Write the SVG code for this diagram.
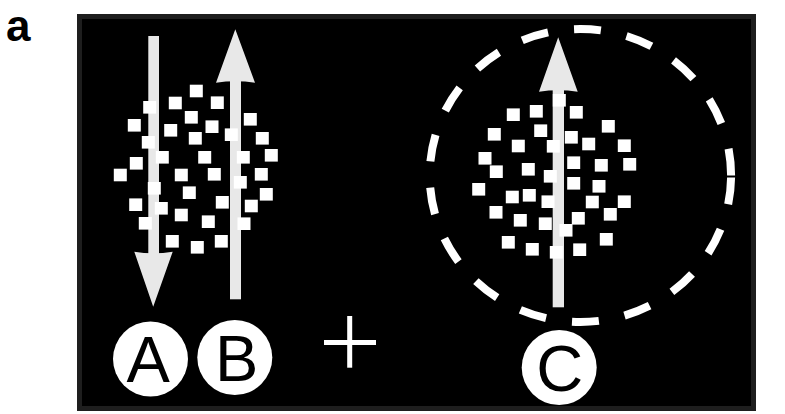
<svg xmlns="http://www.w3.org/2000/svg" width="785" height="414" viewBox="0 0 785 414">
<style>
.d{fill:#ffffff}
.arr{fill:#e8e8e8}
.lab{fill:#ffffff}
.lt{font-family:"Liberation Sans",Arial,sans-serif;font-size:65px;fill:#000000;text-anchor:middle}
</style>
<rect x="0" y="0" width="785" height="414" fill="#ffffff"/>
<text x="6" y="40.5" font-family="Liberation Sans, Arial, sans-serif" font-weight="bold" font-size="44" fill="#000000">a</text>
<rect id="panel" x="79.5" y="16.5" width="674" height="392" fill="#000000" stroke="#1e1e1e" stroke-width="5"/>
<g id="connectors">
<g id="arrowA" class="arr">
<rect x="148.3" y="36" width="10.7" height="218"/>
<path d="M134.3,251.7 Q153.5,255 172.7,251.7 L153.2,306.7 Z"/>
</g>
<g id="arrowB" class="arr">
<rect x="230" y="80" width="11" height="219.3"/>
<path d="M216,82.7 Q235.5,80 255,82.7 L235.3,29.3 Z"/>
</g>
<g id="arrowC" class="arr">
<rect x="552.7" y="88" width="11.3" height="219.3"/>
<path d="M539,91.7 Q558.3,89 577.7,91.7 L558.2,37.3 Z"/>
</g>
</g>
<g id="clusterAB">
<rect class="d" x="189.8" y="84.7" width="13" height="12.6"/>
<rect class="d" x="143.2" y="101" width="13" height="12.6"/>
<rect class="d" x="168.8" y="96.7" width="13" height="12.6"/>
<rect class="d" x="210.8" y="96.4" width="13" height="12.6"/>
<rect class="d" x="184.8" y="111" width="13" height="12.6"/>
<rect class="d" x="243.8" y="113" width="13" height="12.6"/>
<rect class="d" x="127.8" y="119" width="13" height="12.6"/>
<rect class="d" x="164.2" y="124" width="13" height="12.6"/>
<rect class="d" x="205.5" y="120.4" width="13" height="12.6"/>
<rect class="d" x="224.8" y="128.4" width="13" height="12.6"/>
<rect class="d" x="141.8" y="136" width="13" height="12.6"/>
<rect class="d" x="188.8" y="132" width="13" height="12.6"/>
<rect class="d" x="255.8" y="132" width="13" height="12.6"/>
<rect class="d" x="129.8" y="157" width="13" height="12.6"/>
<rect class="d" x="155.8" y="151" width="13" height="12.6"/>
<rect class="d" x="198.2" y="151" width="13" height="12.6"/>
<rect class="d" x="236.8" y="151" width="13" height="12.6"/>
<rect class="d" x="264.8" y="149" width="13" height="12.6"/>
<rect class="d" x="113.8" y="168.7" width="13" height="12.6"/>
<rect class="d" x="174.8" y="168.7" width="13" height="12.6"/>
<rect class="d" x="207.8" y="168" width="13" height="12.6"/>
<rect class="d" x="233.8" y="176" width="13" height="12.6"/>
<rect class="d" x="254.8" y="168" width="13" height="12.6"/>
<rect class="d" x="147.8" y="182" width="13" height="12.6"/>
<rect class="d" x="182.8" y="186.4" width="13" height="12.6"/>
<rect class="d" x="259.8" y="188" width="13" height="12.6"/>
<rect class="d" x="129.2" y="198.4" width="13" height="12.6"/>
<rect class="d" x="154.8" y="202" width="13" height="12.6"/>
<rect class="d" x="215.8" y="196" width="13" height="12.6"/>
<rect class="d" x="244.8" y="199.7" width="13" height="12.6"/>
<rect class="d" x="138.8" y="217" width="13" height="12.6"/>
<rect class="d" x="174.8" y="208.7" width="13" height="12.6"/>
<rect class="d" x="201.8" y="215.4" width="13" height="12.6"/>
<rect class="d" x="237.5" y="217.4" width="13" height="12.6"/>
<rect class="d" x="165.8" y="235" width="13" height="12.6"/>
<rect class="d" x="190.8" y="241" width="13" height="12.6"/>
<rect class="d" x="214.8" y="235" width="13" height="12.6"/>
</g>
<g id="clusterC">
<rect class="d" x="552.8" y="94" width="13" height="12.6"/>
<rect class="d" x="506.8" y="108.4" width="13" height="12.6"/>
<rect class="d" x="529.8" y="105" width="13" height="12.6"/>
<rect class="d" x="569.8" y="106" width="13" height="12.6"/>
<rect class="d" x="601.8" y="120" width="13" height="12.6"/>
<rect class="d" x="487.8" y="128" width="13" height="12.6"/>
<rect class="d" x="534.2" y="124.4" width="13" height="12.6"/>
<rect class="d" x="564.8" y="131" width="13" height="12.6"/>
<rect class="d" x="511.8" y="139.7" width="13" height="12.6"/>
<rect class="d" x="546.8" y="140" width="13" height="12.6"/>
<rect class="d" x="582.2" y="137.7" width="13" height="12.6"/>
<rect class="d" x="617.8" y="139.4" width="13" height="12.6"/>
<rect class="d" x="478.5" y="152" width="13" height="12.6"/>
<rect class="d" x="567.2" y="156.4" width="13" height="12.6"/>
<rect class="d" x="594.8" y="159" width="13" height="12.6"/>
<rect class="d" x="623.2" y="158" width="13" height="12.6"/>
<rect class="d" x="489.8" y="165.4" width="13" height="12.6"/>
<rect class="d" x="521.8" y="163" width="13" height="12.6"/>
<rect class="d" x="543.8" y="170" width="13" height="12.6"/>
<rect class="d" x="472.2" y="183" width="13" height="12.6"/>
<rect class="d" x="567.2" y="177" width="13" height="12.6"/>
<rect class="d" x="592.5" y="180" width="13" height="12.6"/>
<rect class="d" x="505.8" y="190.7" width="13" height="12.6"/>
<rect class="d" x="522.8" y="189" width="13" height="12.6"/>
<rect class="d" x="541.5" y="195.4" width="13" height="12.6"/>
<rect class="d" x="585.8" y="195.7" width="13" height="12.6"/>
<rect class="d" x="617.8" y="195.4" width="13" height="12.6"/>
<rect class="d" x="489.5" y="206" width="13" height="12.6"/>
<rect class="d" x="513.8" y="214" width="13" height="12.6"/>
<rect class="d" x="538.8" y="217.4" width="13" height="12.6"/>
<rect class="d" x="571.8" y="212" width="13" height="12.6"/>
<rect class="d" x="603.8" y="208" width="13" height="12.6"/>
<rect class="d" x="559.5" y="224" width="13" height="12.6"/>
<rect class="d" x="501.8" y="236" width="13" height="12.6"/>
<rect class="d" x="525.8" y="243" width="13" height="12.6"/>
<rect class="d" x="549.8" y="246" width="13" height="12.6"/>
<rect class="d" x="573.2" y="243.4" width="13" height="12.6"/>
<rect class="d" x="599.8" y="233" width="13" height="12.6"/>
</g>
<ellipse id="dashed-boundary" cx="580.4" cy="175.5" rx="150.7" ry="146.5" fill="none" stroke="#ffffff" stroke-width="8" stroke-dasharray="27 26.2" stroke-dashoffset="-2"/>
<g id="labelA">
<circle class="lab" cx="150.5" cy="359" r="37.5"/>
<text class="lt" x="148.3" y="381.7">A</text>
</g>
<g id="labelB">
<circle class="lab" cx="234.8" cy="357.5" r="37.5"/>
<text class="lt" x="236.7" y="381">B</text>
</g>
<g id="plus">
<rect x="324" y="340" width="52" height="5" fill="#ffffff"/>
<rect x="347.2" y="316" width="5" height="51.7" fill="#ffffff"/>
</g>
<g id="labelC">
<circle class="lab" cx="559.2" cy="367.5" r="37.5"/>
<text class="lt" x="559.7" y="390.5">C</text>
</g>
</svg>
